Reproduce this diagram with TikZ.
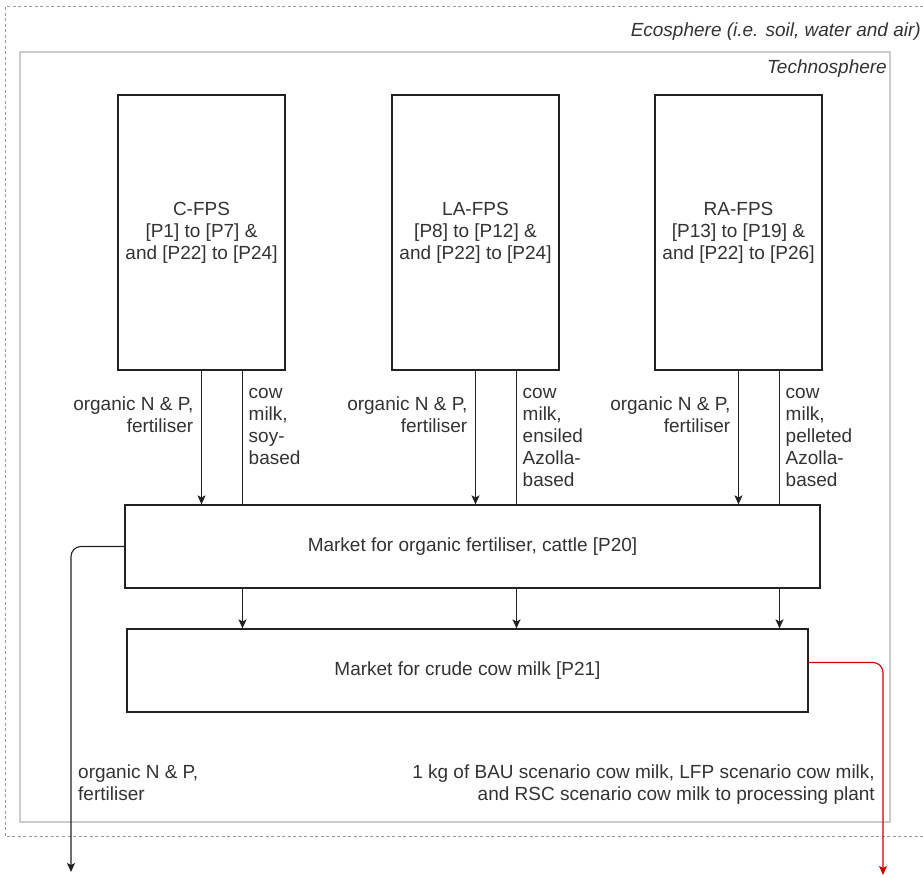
\documentclass[tikz,border=0pt]{standalone}
\usepackage{fontspec}
\setmainfont{Liberation Sans}
\usetikzlibrary{arrows.meta}
\definecolor{linec}{HTML}{222222}
\definecolor{txtc}{HTML}{333333}
\definecolor{ecoc}{HTML}{999999}
\definecolor{techc}{HTML}{CCCCCC}
\definecolor{redc}{HTML}{CC0000}
\tikzset{
  every node/.style={font=\fontsize{19}{22}\selectfont, text=txtc},
  procbox/.style={draw=linec, line width=1.2pt, fill=white, inner sep=0pt, align=center},
  flow/.style={draw=linec, line width=1.1pt},
  arr/.style={flow, -{Stealth[length=9pt,width=8pt,inset=2pt]}},
  redarr/.style={draw=redc, line width=1.1pt, -{Stealth[length=9pt,width=8pt,inset=2pt]}, rounded corners=10pt},
  lbl/.style={inner sep=0pt},
  sphere/.style={inner sep=0pt, font=\fontsize{19}{22}\selectfont\itshape}
}
\begin{document}
\begin{tikzpicture}[x=1pt,y=-1pt]
\useasboundingbox (0,0) rectangle (923,877);
% Ecosphere
\draw[ecoc, line width=1pt, dash pattern=on 3pt off 2.5pt] (923,7) -- (5,7) -- (5,836) -- (923,836);
\node[sphere, anchor=base east] (eco) at (921,37) {Ecosphere (i.e. soil, water and air)};
% Technosphere
\draw[techc, line width=1.5pt] (20,52) rectangle (890,822);
\node[sphere, anchor=base east] (tech) at (887,74) {Technosphere};
% process boxes
\node[procbox, minimum width=167pt, minimum height=275pt] (cfps) at (201.5,232.5) {C-FPS\\{}[P1] to [P7] \&\\{}and [P22] to [P24]};
\node[procbox, minimum width=167pt, minimum height=275pt] (lafps) at (475.5,232.5) {LA-FPS\\{}[P8] to [P12] \&\\{}and [P22] to [P24]};
\node[procbox, minimum width=167pt, minimum height=275pt] (rafps) at (738.5,232.5) {RA-FPS\\{}[P13] to [P19] \&\\{}and [P22] to [P26]};
% markets
\node[procbox, minimum width=695pt, minimum height=83pt] (mof) at (472.5,546.5) {Market for organic fertiliser, cattle [P20]};
\node[procbox, minimum width=681pt, minimum height=83pt] (mcm) at (467.5,670.5) {Market for crude cow milk [P21]};
% flows from FPS to market
\foreach \b in {cfps,lafps,rafps}{
  \draw[arr] (\b.south) -- (\b.south |- mof.north);
  \draw[flow] ([xshift=41pt]\b.south) -- ([xshift=41pt]\b.south |- mof.north);
  \draw[arr] ([xshift=41pt]\b.south |- mof.south) -- ([xshift=41pt]\b.south |- mcm.north);
}
% labels on flows
\node[lbl, align=right, anchor=north east] (fl1) at ([xshift=-8pt,yshift=-26pt]cfps.south) {organic N \& P,\\fertiliser};
\node[lbl, align=right, anchor=north east] (fl2) at ([xshift=-8pt,yshift=-26pt]lafps.south) {organic N \& P,\\fertiliser};
\node[lbl, align=right, anchor=north east] (fl3) at ([xshift=-8pt,yshift=-26pt]rafps.south) {organic N \& P,\\fertiliser};
\node[lbl, align=left, anchor=north west] (ml1) at ([xshift=47pt,yshift=-17pt]cfps.south) {cow\\milk,\\soy-\\based};
\node[lbl, align=left, anchor=north west] (ml2) at ([xshift=47pt,yshift=-17pt]lafps.south) {cow\\milk,\\ensiled\\Azolla-\\based};
\node[lbl, align=left, anchor=north west] (ml3) at ([xshift=47pt,yshift=-17pt]rafps.south) {cow\\milk,\\pelleted\\Azolla-\\based};
% outputs
\coordinate (lend) at (71,872);
\coordinate (rend) at (883,875);
\draw[arr, rounded corners=10pt] (mof.west) -| (lend);
\draw[redarr] ([yshift=8pt]mcm.east) -| (rend);
\node[lbl, align=left, anchor=north west] (outl) at (78,765) {organic N \& P,\\fertiliser};
\node[lbl, align=right, anchor=north east] (outr) at (875,765) {1 kg of BAU scenario cow milk, LFP scenario cow milk,\\and RSC scenario cow milk to processing plant};
\end{tikzpicture}
\end{document}
